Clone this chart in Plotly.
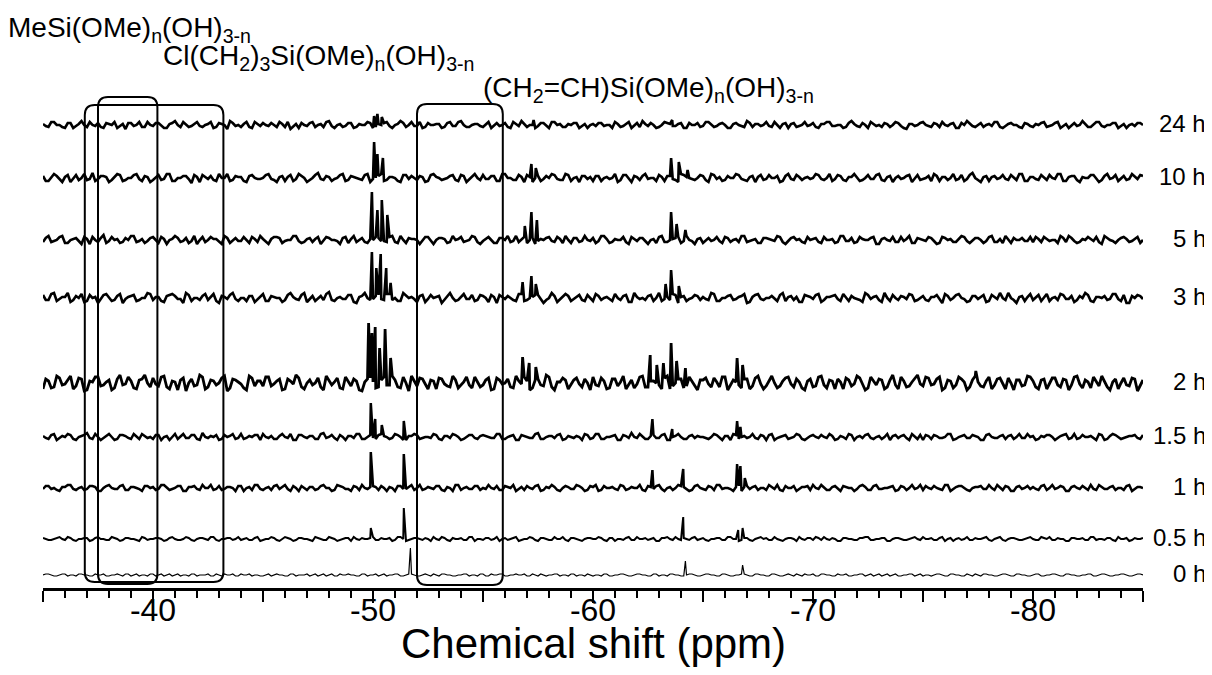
import numpy as np
import plotly.graph_objects as go

# ---------------- data ----------------
labels = ["24 h", "10 h", "5 h", "3 h", "2 h", "1.5 h", "1 h", "0.5 h", "0 h"]
offsets = [463, 410, 348, 290, 205, 151, 100, 49, 13]   # vertical stacking offsets
x_start, x_end = -35, -85

# baseline noise sampled every 0.25 ppm (grid) and at the mid-points between
noise_24h = [1,-2,3,0,-3,2,-1,4,-2,0,2,-3,1,3,-1,-4,2,0,-2,3,
             -1,2,-3,1,4,-2,0,-1,3,-2,1,-3,2,0,4,-1,-2,3,-3,1,
             2,-1,0,3,-2,-4,1,2,-1,3,0,-2,4,-3,1,-1,2,-2,0,3,
             -3,1,2,-1,0,4,-2,3,-1,-3,2,0,1,-2,3,-1,4,-2,0,1,
             -2,3,0,-1,2,-3,1,4,-2,0,-1,2,-3,3,1,-2,0,2,-1,-3,
             1,2,-1,0,3,-2,1,-3,2,4,-1,0,-2,3,1,-1,2,-3,0,2,
             -1,3,-2,1,0,-3,2,-1,4,-2,1,0,-1,3,-3,2,1,-2,0,-1,
             2,-3,1,3,-1,0,-2,4,-1,2,-3,1,0,2,-2,3,-1,-4,1,0,
             3,-1,2,-2,0,1,-3,2,4,-1,0,-2,1,3,-2,-1,2,0,-3,1,
             -2,0,3,-1,2,-3,1,0,-1,4,-2,1,3,-2,0,2,-1,-3,1,2,0]
noise_24h_mid = [-1,3,0,-2,2,-3,1,0,3,-1,-2,2,0,-3,1,2,-1,3,-2,0,
                 2,-1,-3,2,0,3,-2,1,-1,0,3,-2,1,-4,2,0,1,-2,3,-1,
                 0,2,-2,1,3,-1,-3,0,2,-2,1,3,-1,0,-2,2,-3,1,0,2,
                 -2,0,3,-3,1,2,0,-1,3,-2,0,1,-3,2,-1,3,0,-2,1,-1,
                 1,-3,2,0,-2,3,-1,1,0,-3,2,-1,3,0,-2,1,2,-3,1,0,
                 -1,2,0,-3,1,-1,3,0,-2,1,2,-3,0,2,-1,1,-3,2,0,-2,
                 3,0,-1,2,-3,1,0,-2,2,1,-1,3,-2,0,1,-3,2,-1,3,0,
                 -2,1,3,-1,0,-3,2,1,-2,0,3,-1,-2,1,0,2,-3,1,-1,2,
                 0,-2,1,3,-1,2,-3,0,1,-2,2,0,-1,3,-3,1,0,-2,2,-1,
                 1,2,-2,0,3,-1,-3,2,0,1,-2,3,-1,0,2,-3,1,0,-1,2]
noise_10h = [2,-3,4,-1,1,-4,3,0,-2,5,-1,2,-4,1,3,-2,0,4,-3,1,
             -2,3,-1,4,-3,0,2,-5,1,3,-1,-2,4,0,-3,2,1,-4,3,-1,
             0,4,-2,1,-3,3,-1,2,-4,0,5,-2,1,-1,3,-3,2,0,-2,4,
             -1,2,-3,1,0,-4,3,2,-2,1,-3,4,0,-1,2,-2,3,-4,1,0,
             3,-1,2,-3,4,0,-2,1,3,-4,2,-1,0,3,-2,4,-3,1,2,-1,
             -3,2,0,-1,4,-2,3,-4,1,2,-1,0,3,-3,2,-2,4,1,-1,0,
             2,-4,3,1,-2,0,4,-1,-3,2,1,-2,3,0,-4,2,-1,3,-2,1,
             0,3,-2,4,-1,2,-3,1,0,-2,3,-1,4,-3,2,0,-1,2,-4,3,
             -1,2,4,-3,1,0,-2,3,-1,5,-2,1,-3,2,0,-1,3,-2,4,-3,
             1,-2,0,3,-1,4,-3,2,-2,1,0,3,-4,2,-1,3,0,-2,4,-1,2]
noise_10h_mid = [-3,1,2,-4,3,0,-2,4,-1,-3,2,1,-2,4,-3,0,3,-1,2,-4,
                 1,-2,4,-3,0,2,-1,3,-4,1,2,-3,0,4,-2,1,-3,2,0,-1,
                 3,-1,-4,2,1,-3,4,0,-2,3,-1,2,-3,0,4,-2,1,-1,3,-4,
                 0,4,-2,1,-3,3,-1,0,2,-4,3,1,-2,0,3,-3,2,-1,4,-2,
                 -1,2,-3,4,0,-2,3,-4,1,0,-3,2,4,-1,-2,3,0,-4,2,1,
                 2,-3,1,0,-4,3,-1,2,-2,4,0,-3,1,2,-1,-4,3,0,-2,3,
                 -2,4,-1,-3,2,0,3,-2,1,-4,3,-1,0,2,-3,4,-2,1,0,-1,
                 4,-1,0,-3,3,-2,1,4,-3,0,-1,3,-2,1,-4,2,0,3,-1,-2,
                 0,-3,2,1,-2,4,-1,-3,3,0,-4,2,1,-1,3,-2,0,4,-3,1,
                 -1,3,-2,0,4,-3,1,2,-4,0,3,-1,-2,4,0,-3,2,-1,1,3]
noise_5h = [-2,4,-1,3,-3,0,2,-4,1,3,-2,5,-1,0,-3,2,4,-2,1,-1,
            3,-3,1,0,4,-2,2,-1,-4,3,0,1,-2,4,-3,2,-1,0,3,-2,
            1,-4,3,2,-1,0,4,-3,1,-2,3,-1,2,0,-4,3,1,-2,2,-3,
            0,2,-1,3,-2,4,-3,1,0,-1,3,-4,2,1,-2,0,3,-1,4,-2,
            -1,3,-3,2,0,-2,4,1,-3,2,-1,0,3,-2,1,4,-3,2,-1,0,
            2,-1,4,-3,1,0,-2,3,-1,2,-4,1,3,-2,0,2,-3,4,-1,1,
            -3,2,0,-1,3,-2,1,4,-2,0,-3,2,1,-1,3,-4,2,0,-2,3,
            1,-2,3,0,-3,4,-1,2,-2,1,0,3,-4,2,-1,-2,3,1,-3,2,
            0,3,-1,-3,2,1,-2,4,-1,0,2,-3,3,-2,1,4,-3,0,2,-1,
            -2,1,3,-1,0,4,-2,2,-3,1,3,-1,-2,4,0,-3,2,1,-1,3,0]
noise_5h_mid = [2,-2,0,4,-3,1,-1,3,-4,0,2,-3,3,1,-2,0,4,-1,-3,2,
                0,3,-4,1,2,-1,-3,4,0,-2,3,1,-4,2,0,-1,3,-3,1,4,
                -2,1,3,-3,0,4,-1,-2,2,1,-4,3,0,-1,2,-3,4,0,-2,1,
                3,-1,-2,4,-3,0,2,1,-4,3,-1,0,2,-3,4,1,-2,0,3,-4,
                1,0,-3,2,4,-1,-2,3,0,-4,1,2,-1,3,-3,0,2,-2,4,-1,
                -3,4,1,-2,0,3,-4,1,2,-1,0,-3,4,-2,1,3,-1,0,-4,2,
                0,-1,3,-3,2,0,-2,4,-1,1,-3,2,0,4,-2,-1,3,1,-3,0,
                2,-3,0,1,-2,4,-1,-3,3,0,2,-4,1,0,3,-2,-1,4,-3,1,
                -1,2,-4,3,0,-2,1,3,-3,2,0,-1,4,-2,-3,1,2,0,-1,3,
                3,-2,1,0,-3,2,4,-1,-2,0,1,3,-4,2,-1,0,3,-2,1,-3]
noise_3h = [3,-2,5,-1,1,-4,2,4,-3,0,-5,3,1,-2,4,-1,2,-3,0,5,
            -2,1,-4,3,2,-1,5,-3,0,2,-2,4,-5,1,3,-1,0,-3,2,-1,
            4,-3,1,0,-2,5,-1,3,-4,2,0,-2,6,-3,1,-1,3,-5,2,0,
            -1,3,-2,4,0,-3,2,1,-4,3,-1,0,2,-2,5,-3,1,-1,3,-2,
            2,-4,1,3,-1,0,-3,4,-2,1,3,-5,0,2,-1,4,-3,1,-2,3,
            -3,2,0,-1,4,-2,3,-4,1,0,2,-3,5,-1,-2,3,1,-3,0,2,
            1,-2,4,-3,0,3,-1,2,-5,1,4,-2,0,-1,3,-3,2,1,-4,2,
            -1,4,-2,1,3,-3,0,2,-1,-4,3,1,-2,5,-3,0,2,-1,3,-2,
            2,-3,1,-1,4,-2,3,0,-4,2,-1,3,-3,1,5,-2,0,-5,2,1,
            -2,3,0,-3,1,4,-1,2,-2,0,3,-4,1,2,-1,4,-3,-5,2,3,-1]
noise_3h_mid = [-2,4,-3,1,5,-2,0,-4,3,1,-1,4,-3,2,-5,1,3,-2,0,4,
                1,-3,2,4,-1,-5,3,0,-2,4,1,-3,2,-1,5,-3,0,2,-4,1,
                -3,2,0,-4,3,1,-2,5,-1,-3,2,4,-2,0,-1,3,-4,1,5,-2,
                2,-1,4,-2,-3,5,0,-1,2,-4,3,1,-5,2,0,-2,4,-1,-3,3,
                0,3,-5,1,2,-2,4,-3,0,3,-1,-2,5,-4,1,2,-1,3,-3,0,
                4,-2,1,-3,0,2,-4,5,-1,-2,3,0,-3,1,4,-5,2,-1,3,-2,
                -1,5,-3,0,2,-2,1,4,-4,3,-1,0,2,-3,5,1,-2,-4,3,1,
                3,-4,1,2,-1,4,-3,0,-2,5,-1,2,-4,0,3,-2,1,4,-3,0,
                -2,1,3,-5,2,0,4,-1,-3,2,1,-4,3,-1,0,5,-2,1,-3,4,
                1,-3,4,0,-2,3,-1,-4,2,5,-3,1,0,-2,4,-1,3,-5,0,2]
noise_2h = [-6,2,-4,5,-1,7,-3,4,-7,1,6,-2,3,-5,8,-1,2,-6,4,0,
            5,-3,7,-6,1,3,-8,4,-2,6,-4,2,0,7,-5,3,-1,-7,5,2,
            -3,6,-1,4,-6,2,8,-4,0,-2,5,-7,3,1,-5,6,-3,2,-8,4,
            1,-4,6,-2,3,-5,0,7,-3,4,-6,2,5,-1,-4,3,-2,6,-5,1,
            -2,5,-6,3,0,-4,7,-1,2,-5,4,-3,6,-7,1,3,-2,5,-4,0,
            6,-3,2,-5,4,1,-6,3,-1,7,-4,2,-2,5,-6,0,4,-3,2,-7,
            3,-1,5,-4,6,-2,1,-5,4,-3,7,-6,2,0,-3,5,-1,4,-5,2,
            -4,6,-2,3,-6,1,5,-3,7,-1,-5,2,4,-6,3,-2,6,-4,1,8,
            -3,5,-1,6,-5,2,-2,4,-7,3,1,-4,6,-2,5,-6,0,3,-3,7,
            2,-6,4,-1,5,-4,3,-2,7,-5,1,6,-3,2,-7,4,0,-2,5,-8,3]
noise_2h_mid = [4,-5,7,-2,3,-6,5,-8,2,6,-3,1,-7,4,-2,6,-5,3,8,-4,
                -1,6,-4,2,-7,5,0,-3,8,-6,3,-2,5,-8,4,1,-5,7,-3,2,
                6,-3,2,-7,4,-1,5,-6,3,0,-4,7,-2,5,-6,2,4,-7,1,5,
                -5,3,-2,7,-4,6,-8,2,5,-1,3,-6,4,-3,7,-5,1,-2,6,-4,
                3,-7,5,-1,4,-5,2,6,-7,3,-2,8,-4,1,5,-6,3,-1,4,-7,
                -2,5,-6,4,-3,7,-1,-5,6,-4,2,0,-6,7,-3,4,-5,6,-2,3,
                5,-4,1,6,-7,3,-2,4,-6,5,-1,-3,7,-5,2,6,-4,1,-7,4,
                -3,7,-5,2,4,-6,3,-1,5,-7,6,-2,3,-4,8,-6,2,-3,5,-1,
                6,-2,4,-7,3,-5,6,1,-4,7,-3,2,-6,4,-1,5,-7,3,-2,6,
                -4,3,-6,5,-2,4,-7,6,-1,3,-5,2,7,-4,1,-6,5,-3,4,-2]
noise_1_5h = [1,-2,3,-1,0,2,-3,1,4,-2,0,-1,3,-3,2,1,-2,0,3,-1,
              -2,2,0,-3,3,1,-1,2,-2,4,-1,0,-3,2,1,-2,3,-1,0,2,
              3,-1,-2,1,0,3,-3,2,-1,1,-2,4,0,-1,2,-3,1,3,-2,0,
              -1,2,1,-2,3,0,-3,1,2,-1,0,3,-2,1,-1,2,-3,0,2,-2,
              2,0,-1,3,-2,1,-3,2,0,-1,4,-2,1,-1,3,-2,0,1,-3,2,
              -1,3,-2,0,2,-3,1,4,-1,0,-2,2,-1,3,-3,1,0,-2,2,1,
              0,-2,3,-1,1,-3,2,0,-1,3,-2,1,2,-3,0,2,-1,3,-2,-1,
              2,-1,0,3,-3,1,-2,2,0,-1,3,-2,1,0,-3,2,1,-1,3,-2,
              -3,1,2,-1,0,3,-2,1,-1,2,0,-3,3,-1,1,-2,2,0,-1,3,
              1,-2,0,2,-3,1,3,-1,-2,2,0,-1,3,-3,1,2,-2,0,1,-1,2]
noise_1_5h_mid = [-1,2,-3,1,3,-2,0,2,-1,3,-3,1,0,-2,2,-1,3,-2,1,0,
                  2,-3,1,0,-2,3,-1,2,-3,0,1,2,-2,0,3,-1,-2,1,2,-3,
                  0,1,-2,3,-1,-3,2,0,1,-2,3,-1,2,-3,0,1,-1,3,-2,2,
                  -2,3,0,-1,2,-3,1,3,-2,0,-1,2,-3,1,3,0,-2,2,-1,1,
                  1,-1,3,-2,0,2,-3,1,-1,3,-2,0,1,2,-3,1,-1,0,3,-2,
                  3,-2,0,1,-3,2,-1,0,3,-2,1,-1,2,-3,0,3,-2,1,-1,0,
                  -1,0,2,-3,1,3,-2,1,0,-1,2,-3,3,-1,1,-2,0,2,-3,1,
                  0,2,-1,1,-2,0,3,-3,1,2,-1,0,-2,3,1,-1,2,-3,0,2,
                  2,-2,1,-1,3,-3,0,2,-1,1,-3,2,0,-1,2,1,-2,3,-1,0,
                  -3,1,2,0,-1,2,-2,3,-1,0,1,-3,2,-2,3,0,-1,1,2,-2]
noise_1h = [-1,2,0,-3,1,3,-2,1,-1,2,-3,0,3,-1,2,-2,1,0,-3,2,
            1,-1,3,-2,0,2,-3,1,-1,3,0,-2,2,-1,1,-3,2,0,-2,3,
            -2,1,2,-1,3,-3,0,2,-2,1,-1,3,0,-2,2,-1,-3,1,3,-1,
            2,-2,0,1,-3,2,-1,3,0,-2,1,-1,2,-3,0,3,-2,1,-1,2,
            0,3,-1,-2,2,0,-3,1,2,-1,3,-2,0,1,-3,2,-1,3,0,-2,
            1,-3,2,0,-1,3,-2,1,0,-2,2,-1,3,-3,1,0,2,-1,-2,3,
            -1,2,-2,3,0,-1,1,-3,2,1,-2,0,3,-1,-2,2,0,-3,1,2,
            3,-1,0,-2,2,-3,1,0,-1,3,-2,2,-1,0,1,-3,2,-2,3,0,
            -2,0,2,-1,3,-3,1,2,-2,0,1,-1,3,-2,0,2,-3,1,-1,2,
            1,-2,3,0,-1,2,-3,1,0,2,-2,-1,3,-1,1,-2,0,2,-3,1,0]
noise_1h_mid = [2,-1,-2,1,3,-1,0,-2,2,1,-3,2,0,-1,3,-2,1,-1,2,0,
                -2,3,0,-1,2,-3,1,2,-2,0,3,-1,-2,1,0,2,-3,1,3,-1,
                0,-2,3,1,-1,2,-3,0,1,-2,2,0,-3,3,1,-1,2,-2,0,1,
                1,2,-3,0,2,-1,1,-2,3,-1,0,2,-2,1,-3,3,0,-1,2,-2,
                -1,0,2,-2,1,3,-1,-2,0,2,-3,1,3,-2,0,1,-1,2,-3,2,
                3,-2,0,1,-2,2,-1,0,3,-3,1,2,-1,0,-2,3,1,-3,2,0,
                -2,1,3,-1,0,-3,2,1,-1,2,0,-2,1,3,-3,0,2,-1,1,-2,
                0,3,-2,1,-1,2,0,-3,2,1,-2,3,-1,0,2,-2,1,0,-1,3,
                2,-1,0,-2,3,-1,2,0,-3,1,2,-1,0,3,-2,1,-3,2,0,-1,
                -1,2,-2,3,0,1,-3,2,-1,0,3,-2,1,-1,2,0,-2,3,-1,1]
noise_0_5h = [1,-1,0,2,-1,1,-2,0,1,-1,2,0,-1,1,-2,1,0,-1,2,-1,
              0,1,-2,1,0,-1,2,-1,0,1,-1,2,-2,0,1,0,-1,1,-1,2,
              -1,0,1,-2,2,0,-1,1,0,-2,1,-1,2,0,-1,1,-2,0,1,0,
              2,-1,0,1,-1,2,-2,0,1,-1,0,2,-1,1,-2,0,1,-1,2,0,
              -1,1,0,-2,1,0,2,-1,0,1,-2,1,-1,2,0,-1,1,0,-2,1,
              0,2,-1,1,-2,0,1,-1,2,0,-1,1,-2,1,0,2,-1,0,1,-1,
              1,-2,0,1,-1,2,0,-1,1,-2,1,0,-1,2,-1,0,1,-2,0,1,
              -1,1,2,-1,0,-2,1,0,-1,1,2,-1,0,1,-2,1,0,-1,1,0,
              2,0,-1,1,-2,1,0,-1,2,-1,0,1,-1,0,2,-2,1,0,-1,1,
              0,-1,1,2,-1,0,-2,1,0,1,-1,2,0,-1,1,-2,0,1,-1,0,1]
noise_0_5h_mid = [0,-1,1,0,2,-1,0,1,-2,1,0,-1,2,0,-1,1,0,-2,1,0,
                  1,0,-1,2,-1,0,1,-2,1,0,2,-1,0,1,-1,2,0,-1,1,-2,
                  0,2,-1,0,1,-2,1,0,-1,2,0,-1,1,-2,0,1,2,-1,0,1,
                  -1,1,0,-2,2,0,-1,1,0,1,-2,0,2,-1,1,0,-1,2,-2,0,
                  1,-1,2,0,-1,1,-2,0,2,-1,1,0,-1,0,2,-2,1,-1,0,1,
                  0,1,-2,1,0,-1,2,-1,0,1,0,-2,1,2,-1,0,1,-1,2,0,
                  -1,0,1,-1,2,0,-2,1,-1,0,2,1,-1,0,-2,1,0,2,-1,1,
                  2,-1,0,1,-2,1,0,-1,1,2,-1,0,1,-2,0,1,-1,0,2,-1,
                  0,1,-1,2,0,-2,1,0,-1,1,0,2,-2,1,-1,0,1,-1,0,2,
                  -1,2,0,-1,1,0,-2,1,0,-1,2,-1,0,1,-1,2,0,-2,1,0]
noise_0h = [0,1,-1,0,1,0,-1,1,0,-1,0,1,-1,0,0,1,-1,1,0,-1,
            1,0,-1,1,0,-1,0,1,-1,0,1,-1,0,1,0,-1,1,0,-1,0,
            -1,1,0,0,-1,1,-1,0,1,0,-1,1,0,-1,1,0,0,-1,1,-1,
            0,-1,1,0,1,-1,0,1,-1,0,0,1,-1,1,0,-1,0,1,0,-1,
            1,-1,0,1,-1,0,1,0,-1,1,-1,0,0,1,-1,0,1,-1,0,1,
            -1,0,1,-1,0,1,0,-1,1,0,-1,1,-1,0,1,0,-1,0,1,-1,
            0,1,0,-1,1,-1,0,1,0,-1,1,0,-1,1,-1,0,0,1,-1,0,
            1,-1,1,0,-1,0,1,-1,0,1,0,-1,1,0,-1,1,-1,0,1,0,
            -1,0,0,1,-1,1,0,-1,1,-1,0,1,0,-1,0,1,-1,1,0,-1,
            0,1,-1,0,1,-1,1,0,-1,0,1,-1,0,1,-1,0,1,0,-1,1,0]
noise_0h_mid = [1,0,-1,1,-1,0,1,0,-1,1,0,-1,0,1,-1,1,0,-1,0,1,
                -1,1,0,-1,1,0,-1,1,0,0,-1,1,-1,0,1,-1,0,1,0,-1,
                0,-1,1,0,-1,1,0,0,-1,1,0,-1,1,-1,0,1,0,-1,1,0,
                1,0,-1,0,1,-1,1,0,-1,1,-1,0,1,0,-1,0,1,-1,0,1,
                -1,1,0,1,-1,0,0,1,-1,0,1,-1,0,1,0,-1,1,0,-1,0,
                0,-1,1,-1,0,1,-1,0,1,0,-1,1,0,-1,1,0,-1,1,0,-1,
                1,0,-1,1,0,-1,0,1,-1,1,0,-1,1,0,-1,1,-1,0,1,0,
                -1,1,0,-1,1,0,-1,0,1,-1,1,0,-1,1,0,-1,0,1,-1,1,
                0,-1,1,0,-1,1,0,-1,0,1,-1,1,0,-1,1,0,-1,1,0,-1,
                1,-1,0,1,0,-1,1,0,-1,0,1,-1,1,0,-1,0,1,-1,0,1]

# peaks: (chemical shift ppm, height)
peaks_24h = [(-50.05, 9), (-50.2, 11), (-50.4, 8), (-57.3, 5), (-63.6, 5)]
peaks_10h = [(-50.05, 36), (-50.2, 24), (-50.45, 20), (-57.2, 14), (-57.4, 10),
             (-63.55, 20), (-63.9, 16), (-64.3, 8)]
peaks_5h = [(-49.95, 48), (-50.2, 30), (-50.4, 40), (-50.65, 25), (-56.9, 14),
            (-57.2, 28), (-57.45, 20), (-63.55, 28), (-63.8, 16), (-64.2, 10)]
peaks_3h = [(-49.95, 46), (-50.15, 30), (-50.35, 44), (-50.6, 30), (-50.8, 15),
            (-56.8, 16), (-57.2, 22), (-57.4, 14), (-63.3, 14), (-63.55, 28), (-63.9, 12)]
peaks_2h = [(-49.8, 60), (-49.95, 50), (-50.1, 56), (-50.3, 35), (-50.55, 54), (-50.8, 25),
            (-56.8, 26), (-57.1, 20), (-57.4, 16), (-62.6, 28), (-62.9, 18), (-63.2, 20),
            (-63.55, 40), (-63.8, 22), (-64.2, 15), (-66.55, 25), (-66.8, 18), (-77.4, 12)]
peaks_1_5h = [(-49.9, 34), (-50.1, 18), (-50.4, 12), (-51.4, 16), (-62.7, 18),
              (-63.6, 8), (-66.55, 16), (-66.7, 10)]
peaks_1h = [(-49.9, 36), (-51.4, 34), (-62.7, 18), (-64.1, 19), (-66.55, 24),
            (-66.7, 22), (-66.9, 10)]
peaks_0_5h = [(-49.9, 11), (-51.4, 31), (-64.1, 22), (-66.6, 9), (-66.8, 11)]
peaks_0h = [(-51.7, 27), (-64.2, 14), (-66.8, 10)]

noises = [noise_24h, noise_10h, noise_5h, noise_3h, noise_2h,
          noise_1_5h, noise_1h, noise_0_5h, noise_0h]
noises_mid = [noise_24h_mid, noise_10h_mid, noise_5h_mid, noise_3h_mid, noise_2h_mid,
              noise_1_5h_mid, noise_1h_mid, noise_0_5h_mid, noise_0h_mid]
peaks = [peaks_24h, peaks_10h, peaks_5h, peaks_3h, peaks_2h,
         peaks_1_5h, peaks_1h, peaks_0_5h, peaks_0h]
line_widths = [2.6, 2.6, 2.6, 2.6, 2.8, 2.5, 2.5, 2.0, 1.2]

# marked regions (ppm) for the three silane species
regions = [(-36.9, -43.2, 6, 483), (-37.5, -40.2, 4, 491), (-52.0, -55.9, 3, 484)]

# ---------------- figure ----------------
fig = go.Figure()
for noise, mid, pk, off, lw in zip(noises, noises_mid, peaks, offsets, line_widths):
    xg = np.linspace(x_start, x_end, len(noise))
    step = (x_end - x_start) / (len(noise) - 1)
    xm = np.linspace(x_start + step / 2, x_end - step / 2, len(mid))
    px = np.array([p[0] for p in pk])
    ph = np.array([p[1] for p in pk], dtype=float)
    x = np.concatenate([xg, xm, px])
    y = np.concatenate([np.array(noise, dtype=float), np.array(mid, dtype=float), ph]) + off
    order = np.argsort(-x)
    fig.add_trace(go.Scatter(x=x[order], y=y[order], mode="lines",
                             line=dict(color="black", width=lw),
                             hoverinfo="skip", showlegend=False))

fig.add_trace(go.Scatter(x=[], y=[], xaxis="x2", showlegend=False))

def rounded_box(xl, xr, yb, yt, rx=0.45, ry=10):
    s = -1 if xr < xl else 1
    return (f"M {xl + s*rx},{yb} L {xr - s*rx},{yb} Q {xr},{yb} {xr},{yb + ry} "
            f"L {xr},{yt - ry} Q {xr},{yt} {xr - s*rx},{yt} L {xl + s*rx},{yt} "
            f"Q {xl},{yt} {xl},{yt - ry} L {xl},{yb + ry} Q {xl},{yb} {xl + s*rx},{yb} Z")

shapes = []
for xl, xr, yb, yt in regions:
    shapes.append(dict(type="path", xref="x", yref="y", path=rounded_box(xl, xr, yb, yt),
                       line=dict(color="black", width=2), layer="above"))

font = "Liberation Sans, Arial, sans-serif"
PW, PH = 1100, 528   # plot area in px
annotations = []
for lab, off in zip(labels, offsets):
    annotations.append(dict(text=lab, xref="paper", yref="y", x=(1200 - 35) / PW, y=off + 2,
                            xanchor="right", yanchor="middle", showarrow=False,
                            font=dict(family=font, size=24, color="black")))

titles = [("MeSi(OMe)<sub>n</sub>(OH)<sub>3-n</sub>", 8, 28),
          ("Cl(CH<sub>2</sub>)<sub>3</sub>Si(OMe)<sub>n</sub>(OH)<sub>3-n</sub>", 163, 57),
          ("(CH<sub>2</sub>=CH)Si(OMe)<sub>n</sub>(OH)<sub>3-n</sub>", 483, 88)]
for t, xp, yp in titles:
    annotations.append(dict(text=t, xref="paper", yref="paper",
                            x=(xp - 10 - 35) / PW, y=(588 - yp - 1) / PH,
                            xanchor="left", yanchor="middle", showarrow=False,
                            font=dict(family=font, size=28, color="black")))

annotations.append(dict(text="Chemical shift (ppm)", xref="paper", yref="paper",
                        x=0.5, y=(588 - 643) / PH, xanchor="center", yanchor="middle",
                        showarrow=False, font=dict(family=font, size=42, color="black")))

fig.update_layout(
    width=1204, height=667,
    margin=dict(l=35, r=69, t=52, b=87, autoexpand=False),
    paper_bgcolor="white", plot_bgcolor="white",
    showlegend=False,
    shapes=shapes, annotations=annotations,
    font=dict(family=font, color="black"),
    xaxis=dict(range=[x_start, x_end], showgrid=False, zeroline=False, automargin=False,
               showline=True, linecolor="black", linewidth=2.5,
               ticks="outside", tickvals=list(range(-35, -86, -5)), ticklen=11,
               tickwidth=2, tickcolor="black", showticklabels=False,
               minor=dict(ticks="outside", dtick=1, tick0=0, ticklen=7,
                          tickwidth=2, tickcolor="black")),
    xaxis2=dict(range=[x_start, x_end], overlaying="x", anchor="y", side="bottom",
                showgrid=False, zeroline=False, showline=False, automargin=False,
                ticks="outside", tickvals=list(range(-40, -81, -10)),
                ticktext=[str(v) for v in range(-40, -81, -10)],
                ticklen=14, tickwidth=2, tickcolor="black", ticklabelstandoff=-20,
                tickfont=dict(family=font, size=32, color="black")),
    yaxis=dict(range=[0, PH], visible=False, fixedrange=True, automargin=False),
)

fig.write_html("out.html")
